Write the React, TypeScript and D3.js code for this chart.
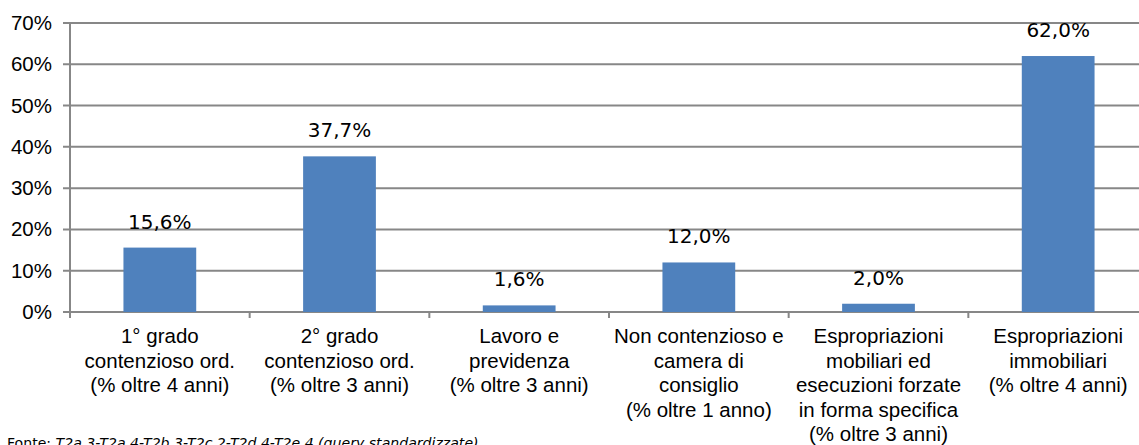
import React from "react";
import * as d3 from "d3";

const categories: string[][] = [
  ["1° grado", "contenzioso ord.", "(% oltre 4 anni)"],
  ["2° grado", "contenzioso ord.", "(% oltre 3 anni)"],
  ["Lavoro e", "previdenza", "(% oltre 3 anni)"],
  ["Non contenzioso e", "camera di", "consiglio", "(% oltre 1 anno)"],
  ["Espropriazioni", "mobiliari ed", "esecuzioni forzate", "in forma specifica", "(% oltre 3 anni)"],
  ["Espropriazioni", "immobiliari", "(% oltre 4 anni)"],
];
const values: number[] = [15.6, 37.7, 1.6, 12.0, 2.0, 62.0];
const yTicks: number[] = [0, 10, 20, 30, 40, 50, 60, 70];
const footerPrefix = "Fonte: ";
const footerItalic = "T2a.3-T2a.4-T2b.3-T2c.2-T2d.4-T2e.4 (query standardizzate)";

const W = 1139;
const H = 445;
const left = 70;
const right = 1148;
const top = 23;
const bottom = 312;

export default function App() {
  const x = d3
    .scaleBand<number>()
    .domain(d3.range(categories.length))
    .range([left, right])
    .padding(0);
  const y = d3.scaleLinear().domain([0, 70]).range([bottom, top]);
  const barW = x.bandwidth() * 0.405;
  const fmt = (v: number) => v.toFixed(1).replace(".", ",") + "%";
  const gridColor = "#878787";

  return (
    <svg
      width={W}
      height={H}
      style={{ position: "absolute", left: 0, top: 0, background: "#fff" }}
    >
      {yTicks.map((t) => (
        <g key={t}>
          <line x1={left - 7} x2={right} y1={y(t)} y2={y(t)} stroke={gridColor} strokeWidth={2} />
          <text
            x={52}
            y={y(t) + 7}
            textAnchor="end"
            fontFamily="'Liberation Sans', Arial, sans-serif"
            fontSize={20.5}
            fill="#000"
          >
            {t}%
          </text>
        </g>
      ))}
      <line x1={left} x2={left} y1={top} y2={bottom + 6} stroke={gridColor} strokeWidth={2} />
      {d3.range(categories.length + 1).map((i) => {
        const xx = left + i * x.step();
        return (
          <line key={i} x1={xx} x2={xx} y1={bottom} y2={bottom + 6} stroke={gridColor} strokeWidth={2} />
        );
      })}
      {values.map((v, i) => {
        const cx = (x(i) as number) + x.bandwidth() / 2;
        return (
          <g key={i}>
            <rect x={cx - barW / 2} y={y(v)} width={barW} height={bottom - y(v)} fill="#4F81BD" />
            <text
              x={cx}
              y={y(v) - 19}
              textAnchor="middle"
              fontFamily="'DejaVu Sans', Verdana, sans-serif"
              fontSize={20}
              fill="#000"
            >
              {fmt(v)}
            </text>
          </g>
        );
      })}
      {categories.map((lines, i) => {
        const cx = (x(i) as number) + x.bandwidth() / 2;
        return (
          <text
            key={i}
            textAnchor="middle"
            fontFamily="'Liberation Sans', Arial, sans-serif"
            fontSize={20.5}
            fill="#000"
          >
            {lines.map((l, j) => (
              <tspan key={j} x={cx} y={343 + j * 24.5}>
                {l}
              </tspan>
            ))}
          </text>
        );
      })}
      <text x={7} y={448} fontFamily="'DejaVu Sans', Verdana, sans-serif" fontSize={14.1} fill="#000">
        {footerPrefix}
        <tspan fontStyle="italic">{footerItalic}</tspan>
      </text>
    </svg>
  );
}
